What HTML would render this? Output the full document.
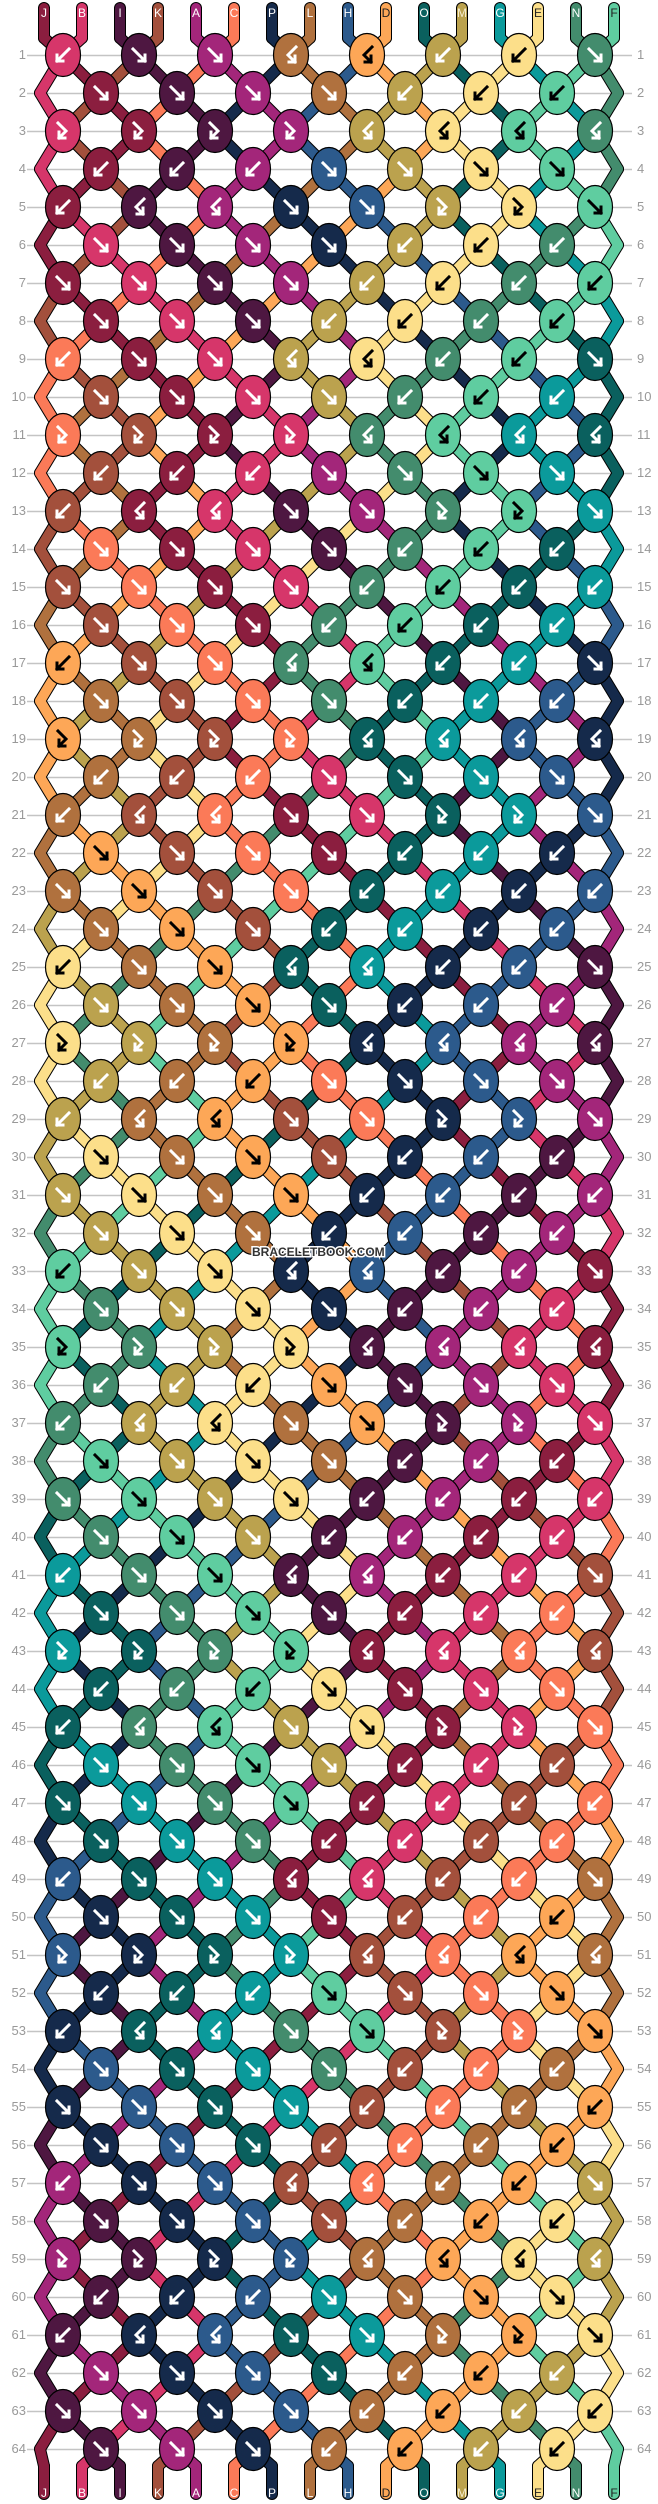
<!DOCTYPE html>
<html><head><meta charset="utf-8"><style>
html,body{margin:0;padding:0;background:#fff;}
#wrap{position:relative;width:658px;height:2504px;overflow:hidden;}
.lab{position:absolute;top:36px;width:26px;font:13px "Liberation Sans",sans-serif;color:#999;line-height:38px;}
svg{position:absolute;left:0;top:0;}
</style></head><body><div id="wrap">
<svg id="g" width="658" height="2504" viewBox="0 0 658 2504"></svg>
<div class="lab" style="left:0;text-align:right;">1<br>2<br>3<br>4<br>5<br>6<br>7<br>8<br>9<br>10<br>11<br>12<br>13<br>14<br>15<br>16<br>17<br>18<br>19<br>20<br>21<br>22<br>23<br>24<br>25<br>26<br>27<br>28<br>29<br>30<br>31<br>32<br>33<br>34<br>35<br>36<br>37<br>38<br>39<br>40<br>41<br>42<br>43<br>44<br>45<br>46<br>47<br>48<br>49<br>50<br>51<br>52<br>53<br>54<br>55<br>56<br>57<br>58<br>59<br>60<br>61<br>62<br>63<br>64</div>
<div class="lab" style="left:637px;text-align:left;">1<br>2<br>3<br>4<br>5<br>6<br>7<br>8<br>9<br>10<br>11<br>12<br>13<br>14<br>15<br>16<br>17<br>18<br>19<br>20<br>21<br>22<br>23<br>24<br>25<br>26<br>27<br>28<br>29<br>30<br>31<br>32<br>33<br>34<br>35<br>36<br>37<br>38<br>39<br>40<br>41<br>42<br>43<br>44<br>45<br>46<br>47<br>48<br>49<br>50<br>51<br>52<br>53<br>54<br>55<br>56<br>57<br>58<br>59<br>60<br>61<br>62<br>63<br>64</div>
<svg width="658" height="2504" viewBox="0 0 658 2504" font-family="Liberation Sans, sans-serif" font-size="12" text-anchor="middle">
<g>
<text x="44" y="17" fill="#fff">J</text><text x="82" y="17" fill="#fff">B</text><text x="120" y="17" fill="#fff">I</text><text x="158" y="17" fill="#fff">K</text><text x="196" y="17" fill="#fff">A</text><text x="234" y="17" fill="#fff">C</text><text x="272" y="17" fill="#fff">P</text><text x="310" y="17" fill="#fff">L</text><text x="348" y="17" fill="#fff">H</text><text x="386" y="17" fill="#222">D</text><text x="424" y="17" fill="#fff">O</text><text x="462" y="17" fill="#f4ecd0">M</text><text x="500" y="17" fill="#fff">G</text><text x="538" y="17" fill="#222">E</text><text x="576" y="17" fill="#fff">N</text><text x="614" y="17" fill="#222">F</text>
</g>
<g>
<text x="44" y="2497" fill="#fff">J</text><text x="82" y="2497" fill="#fff">B</text><text x="120" y="2497" fill="#fff">I</text><text x="158" y="2497" fill="#fff">K</text><text x="196" y="2497" fill="#fff">A</text><text x="234" y="2497" fill="#fff">C</text><text x="272" y="2497" fill="#fff">P</text><text x="310" y="2497" fill="#fff">L</text><text x="348" y="2497" fill="#fff">H</text><text x="386" y="2497" fill="#222">D</text><text x="424" y="2497" fill="#fff">O</text><text x="462" y="2497" fill="#f4ecd0">M</text><text x="500" y="2497" fill="#fff">G</text><text x="538" y="2497" fill="#222">E</text><text x="576" y="2497" fill="#fff">N</text><text x="614" y="2497" fill="#222">F</text>
</g>
<text x="252" y="1256" text-anchor="start" font-weight="bold" font-size="12" fill="#333" stroke="#fff" stroke-width="3" paint-order="stroke">BRACELETBOOK.COM</text>
</svg>
</div>
<script>
(function(){
var C={a:"#8b1e3f",b:"#d6366a",c:"#4e1741",d:"#a3503c",e:"#a3267a",f:"#fb7a58",g:"#152a4b",h:"#b0713e",i:"#2c5a8c",j:"#fda757",k:"#0a605e",l:"#0b9a9b",m:"#bba24e",n:"#fcdf8a",o:"#438c6d",p:"#5fcda0"};
var X="gcadhmok",Yc="iebfjnpl";
function sh(ch,s){var i=X.indexOf(ch);if(i>=0)return X[(i+s)%8];i=Yc.indexOf(ch);return Yc[(i+s)%8];}
var rows=["bcehjmno","acehmnp","bacemnpo","aceimnp","acegimnp","bcegmno","abcemnop","abcmnop"];
var flags=["SSSNNSSS","SSSSSSS","NNNNNNNN","SSSSSSS","SNNSSNNS","SSSSSSS","SSSSSSSS","SSSSSSS"];
var col="abcdefghijkmlnop".split("");
var pt=[];for(var i=0;i<16;i++)pt.push([44+38*i,38]);
var segs=[],knots=[],grid=[];
function Yr(r){return 55+(r-1)*38;}
for(i=0;i<16;i++)segs.push([[44+38*i,8],[44+38*i,38],col[i]]);
for(var r=1;r<=64;r++){
 var y=Yr(r),base=(r-1)%8,s=Math.floor((r-1)/8),odd=r%2==1;
 var n=odd?8:7;
 if(!odd){
  segs.push([pt[0],[40,y],col[0]]);pt[0]=[40,y];
  segs.push([pt[15],[618,y],col[15]]);pt[15]=[618,y];
 }
 for(var k=0;k<n;k++){
  var a=odd?2*k:2*k+1,b=a+1,x=odd?63+76*k:101+76*k;
  var c=sh(rows[base][k],s),sw=flags[base][k]=="S";
  var L=col[a],R=col[b];
  segs.push([pt[a],[x,y],L]);segs.push([pt[b],[x,y],R]);
  var t;
  if(sw)t=(c==L?"F":(c==R?"B":"F"));else t=(c==L?"FB":(c==R?"BF":"FB"));
  if(sw){col[a]=R;col[b]=L;}
  pt[a]=[x,y];pt[b]=[x,y];
  knots.push([x,y,c,t]);
 }
}
for(i=0;i<16;i++){var xx=44+38*i;segs.push([pt[i],[xx,2466],col[i]]);segs.push([[xx,2466],[xx,2494],col[i]]);}
var h=[];
for(r=1;r<=64;r++)h.push('<line x1="27" x2="632" y1="'+(Yr(r)+0.5)+'" y2="'+(Yr(r)+0.5)+'" stroke="#c4c4c4" stroke-width="1.5"/>');
segs.forEach(function(q){h.push('<line x1="'+q[0][0]+'" y1="'+q[0][1]+'" x2="'+q[1][0]+'" y2="'+q[1][1]+'" stroke="#000" stroke-width="12" stroke-linecap="round"/>');});
segs.forEach(function(q){h.push('<line x1="'+q[0][0]+'" y1="'+q[0][1]+'" x2="'+q[1][0]+'" y2="'+q[1][1]+'" stroke="'+C[q[2]]+'" stroke-width="10" stroke-linecap="round"/>');});
knots.forEach(function(q){
 var x=q[0],y=q[1],c=q[2],t=q[3];
 h.push('<ellipse cx="'+x+'" cy="'+y+'" rx="17.5" ry="21.5" fill="'+C[c]+'" stroke="#000" stroke-width="1.2"/>');
 var ac=(c=="n"||c=="j"||c=="p")?"#000":"#fff",d;
 if(t=="F")d="M-6,-6 L6,6 M0,6 L6,6 L6,0";
 else if(t=="B")d="M6,-6 L-6,6 M0,6 L-6,6 L-6,0";
 else if(t=="FB")d="M-5,-8 L3,0 L-4,7 M-4,1 L-4,7 L2,7";
 else d="M5,-8 L-3,0 L4,7 M4,1 L4,7 L-2,7";
 h.push('<path transform="translate('+x+','+y+')" d="'+d+'" fill="none" stroke="'+ac+'" stroke-width="3" stroke-linecap="square"/>');
});
document.getElementById("g").innerHTML=h.join("");
})();
</script>
</body></html>
